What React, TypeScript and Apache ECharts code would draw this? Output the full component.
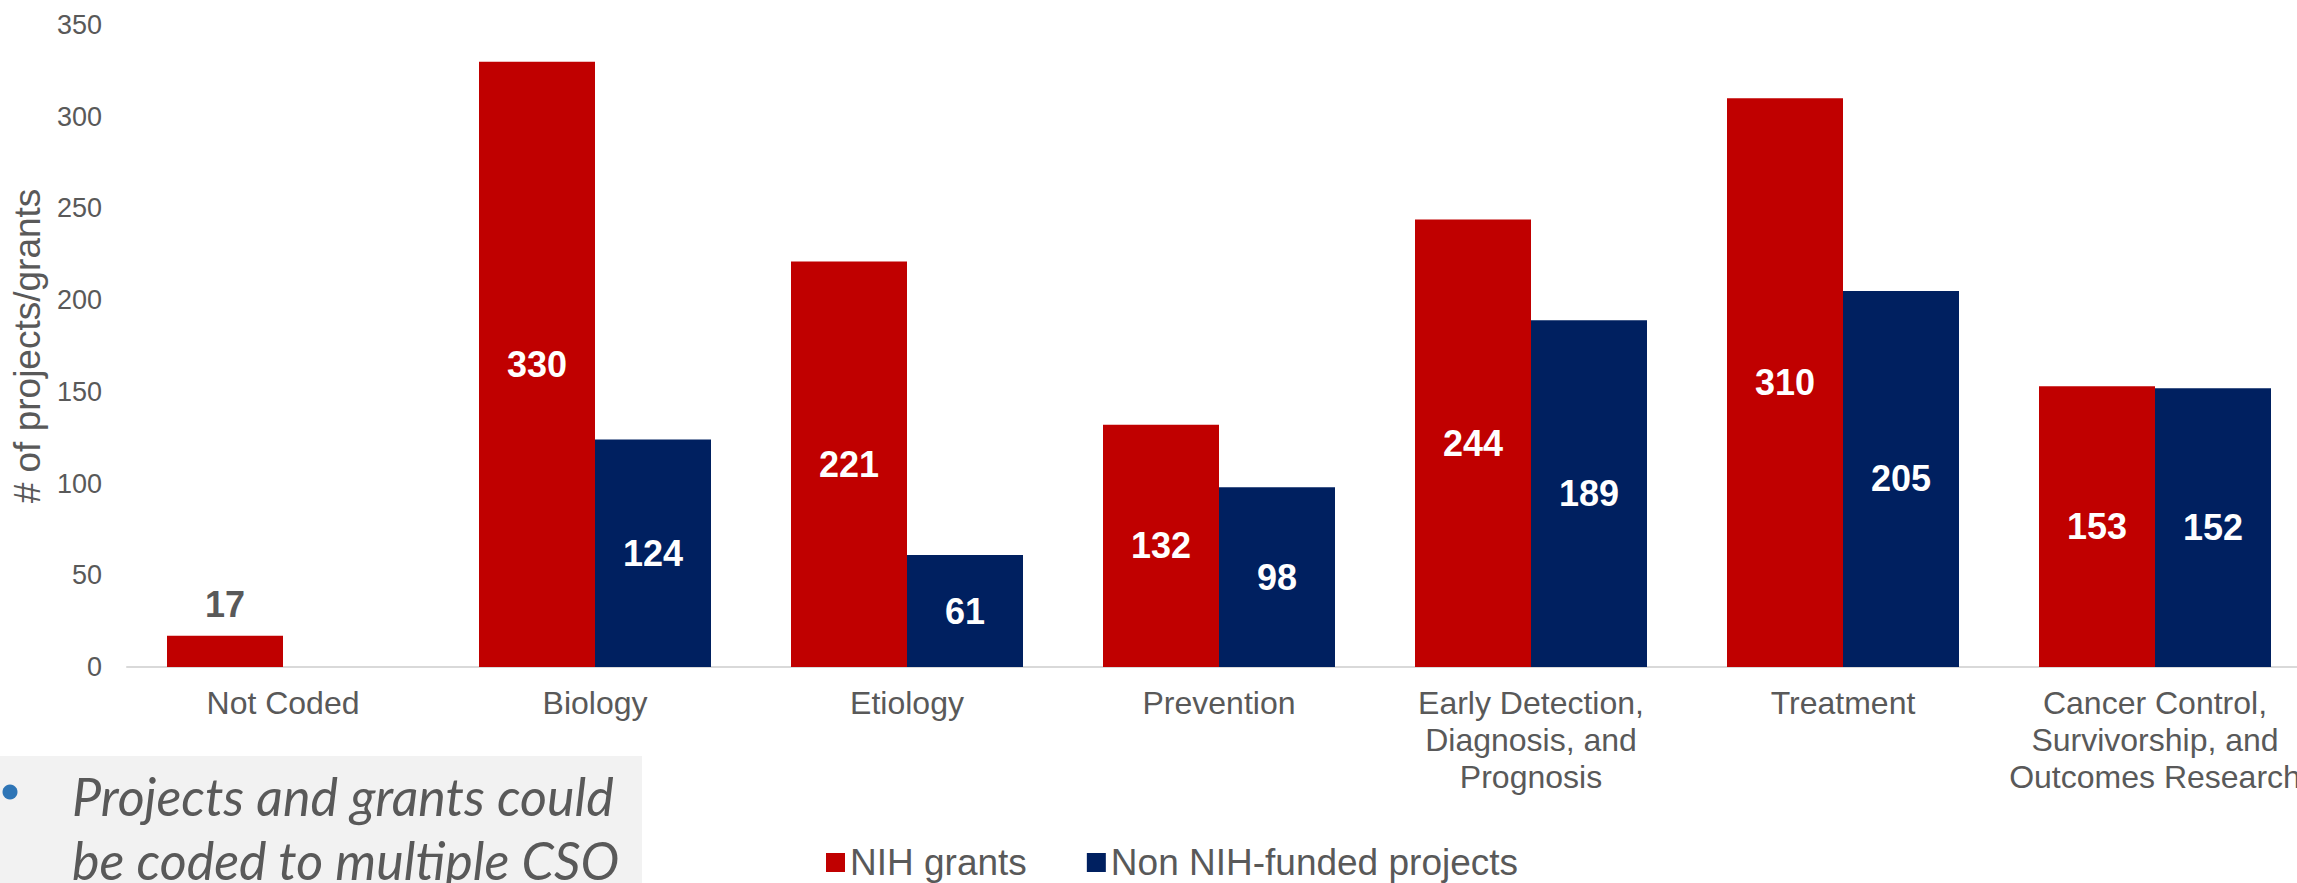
import React, { useEffect, useRef } from "react";
import * as echarts from "echarts";

const categories = [
  "Not Coded",
  "Biology",
  "Etiology",
  "Prevention",
  "Early Detection,\nDiagnosis, and\nPrognosis",
  "Treatment",
  "Cancer Control,\nSurvivorship, and\nOutcomes Research",
];
const nihGrants = [17, 330, 221, 132, 244, 310, 153];
const nonNihProjects: (number | null)[] = [null, 124, 61, 98, 189, 205, 152];
const seriesNames = ["NIH grants", "Non NIH-funded projects"];
const yAxisTitle = "# of projects/grants";
const noteLines = ["Projects and grants could", "be coded to multiple CSO"];

const RED = "#C00000";
const NAVY = "#002060";
const GRAY = "#595959";
const FONT = "'Liberation Sans', Arial, sans-serif";

export default function App() {
  const ref = useRef<HTMLDivElement>(null);
  useEffect(() => {
    if (!ref.current) return;
    const chart = echarts.init(ref.current, undefined, { renderer: "svg" });
    const insideLabel = {
      show: true,
      position: "inside",
      color: "#ffffff",
      fontSize: 36,
      fontWeight: "bold",
      fontFamily: FONT,
    };
    const nihData = nihGrants.map((v) =>
      v < 40
        ? { value: v, label: { position: "top", color: GRAY, distance: 13 } }
        : v
    );
    chart.setOption({
      animation: false,
      backgroundColor: "#ffffff",
      grid: { left: 127, top: 25, width: 2184, height: 642, containLabel: false },
      legend: {
        left: 826,
        top: 844,
        padding: 0,
        itemWidth: 19,
        itemHeight: 19,
        itemGap: 60,
        icon: "rect",
        textStyle: { color: GRAY, fontSize: 37, fontFamily: FONT },
        data: seriesNames,
      },
      xAxis: {
        type: "category",
        data: categories,
        axisLine: { show: true, lineStyle: { color: "#D9D9D9", width: 2 } },
        axisTick: { show: false },
        axisLabel: {
          color: GRAY,
          fontSize: 32,
          lineHeight: 37,
          fontFamily: FONT,
          margin: 17,
          interval: 0,
        },
      },
      yAxis: {
        type: "value",
        min: 0,
        max: 350,
        interval: 50,
        name: yAxisTitle,
        nameLocation: "middle",
        nameGap: 80,
        nameTextStyle: {
          color: GRAY,
          fontSize: 37,
          fontFamily: FONT,
        },
        axisLine: { show: false },
        axisTick: { show: false },
        splitLine: { show: false },
        axisLabel: { color: GRAY, fontSize: 27, fontFamily: FONT, margin: 25 },
      },
      series: [
        {
          name: seriesNames[0],
          type: "bar",
          data: nihData,
          barWidth: 116,
          barGap: "0%",
          itemStyle: { color: RED },
          label: insideLabel,
        },
        {
          name: seriesNames[1],
          type: "bar",
          data: nonNihProjects,
          barWidth: 116,
          barGap: "0%",
          itemStyle: { color: NAVY },
          label: insideLabel,
        },
      ],
      graphic: [
        {
          type: "rect",
          shape: { x: 0, y: 756, width: 642, height: 127 },
          style: { fill: "#F2F2F2" },
          z: 0,
        },
        {
          type: "circle",
          shape: { cx: 10, cy: 792, r: 7.5 },
          style: { fill: "#2E75B6" },
          z: 1,
        },
        ...noteLines.map((t, i) => ({
          type: "text",
          x: 72,
          y: 796 + i * 64,
          style: {
            text: t,
            fill: GRAY,
            font: "italic 52px Lato, 'Open Sans', sans-serif",
            align: "left",
            verticalAlign: "middle",
          },
          z: 1,
        })),
      ],
    });
    return () => chart.dispose();
  }, []);
  return (
    <div
      style={{
        position: "fixed",
        left: 0,
        top: 0,
        width: 2297,
        height: 883,
        overflow: "hidden",
        background: "#fff",
      }}
    >
      <div ref={ref} style={{ width: 2340, height: 883 }} />
    </div>
  );
}
